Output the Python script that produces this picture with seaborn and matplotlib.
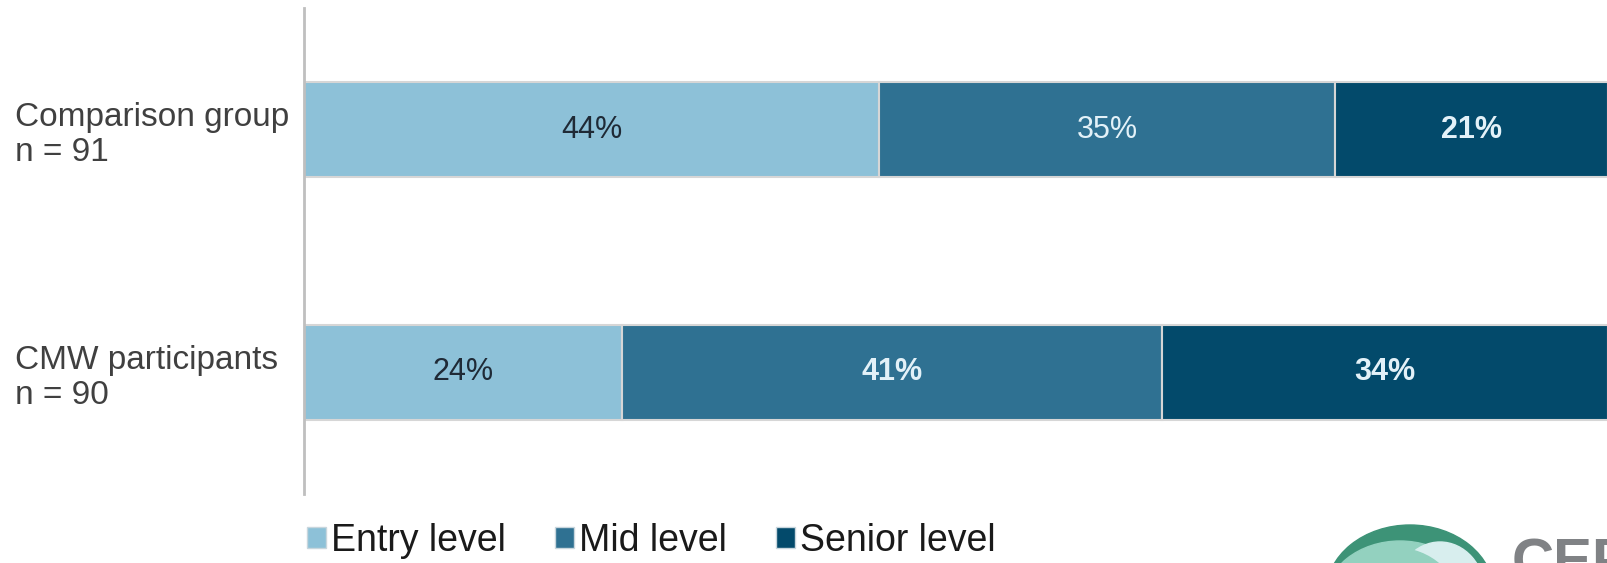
import matplotlib
matplotlib.use("Agg")
import matplotlib.pyplot as plt
import matplotlib.transforms as mtransforms
from matplotlib.patches import Ellipse, Patch
import pandas as pd
import seaborn as sns

# data
groups = ["Comparison group\nn = 91", "CMW participants\nn = 90"]
levels = ["Entry level", "Mid level", "Senior level"]
entry = [44.1, 24.4]
mid = [35.0, 41.4]
senior = [20.9, 34.2]

colors = ["#8dc1d8", "#2f7192", "#034a6b"]
label_colors = ["#1f2a36", "#e3f1f8", "#e3f1f8"]

sns.set_style("white")
plt.rcParams['font.family'] = ['Liberation Sans', 'DejaVu Sans']

fig = plt.figure(figsize=(16.08, 5.63), dpi=100)
ax = fig.add_axes([304 / 1608, 1 - 494 / 563, 1 - 304 / 1608, (494 - 8) / 563])

series = [entry, mid, senior]
left = [0.0, 0.0]
for i, (name, vals) in enumerate(zip(levels, series)):
    df = pd.DataFrame({"group": groups, "value": vals})
    sns.barplot(data=df, y="group", x="value", orient="h", color=colors[i],
                width=0.39, left=left, edgecolor="#d6d6d6", linewidth=1.5,
                saturation=1, ax=ax)
    cont = ax.containers[-1]
    labs = ["%d%%" % round(v) for v in vals]
    weights = ["normal", "normal"] if i == 0 else (["normal", "bold"] if i == 1 else ["bold", "bold"])
    txts = ax.bar_label(cont, labels=labs, label_type="center", fontsize=22,
                        color=label_colors[i])
    for t, w in zip(txts, weights):
        t.set_fontweight(w)
    left = [l + v for l, v in zip(left, vals)]

ax.set_xlim(0, 100)
ax.set_ylim(1.5, -0.5)
ax.set_xlabel("")
ax.set_ylabel("")
ax.set_xticks([])
for s in ["top", "right", "bottom"]:
    ax.spines[s].set_visible(False)
ax.spines["left"].set_color("#bfbfbf")
ax.spines["left"].set_linewidth(2)
ax.tick_params(axis="y", length=0, pad=(304 - 15) * 0.72, labelsize=24, labelcolor="#404040")
for lbl in ax.get_yticklabels():
    lbl.set_horizontalalignment("left")
    lbl.set_linespacing(1.15)

handles = [Patch(facecolor=c, edgecolor="#c8d6dd", linewidth=1) for c in colors]
fig.legend(handles, levels, loc="center left", bbox_to_anchor=(307 / 1608, 1 - 541 / 563),
           ncol=3, frameon=False, fontsize=27, handlelength=0.5, handleheight=0.5,
           handletextpad=0.15, columnspacing=1.3, borderpad=0, borderaxespad=0,
           labelcolor="#1a1a1a")

# partial logo at the bottom right (cut off by the figure edge, as in the source)
px = mtransforms.IdentityTransform()
fig.add_artist(Ellipse((1410, -30), 168, 136, color="#3d9377", transform=px))
fig.add_artist(Ellipse((1400, -38), 150, 120, color="#93d1bf", transform=px))
fig.add_artist(Ellipse((1440, -30), 90, 102, color="#d8eeee", transform=px))
fig.add_artist(Ellipse((1395, -45), 130, 120, color="#93d1bf", transform=px))
fig.text(1512 / 1608, 1 - 538 / 563, "CEPI", fontsize=42, fontweight="bold",
         color="#808285", va="top", ha="left")

fig.savefig("out.png", dpi=100)
